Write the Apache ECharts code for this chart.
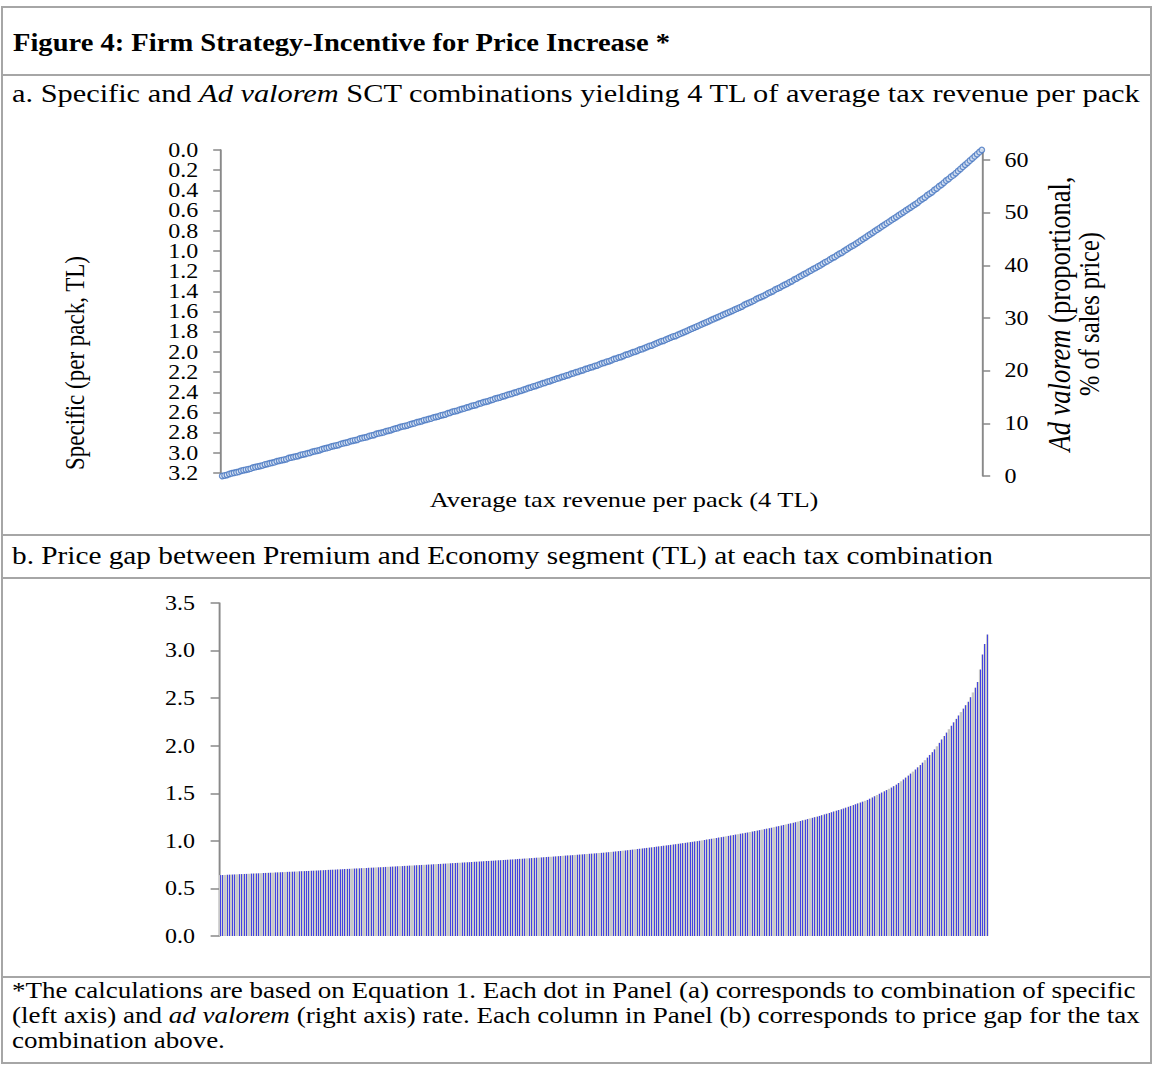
<!DOCTYPE html>
<html>
<head>
<meta charset="utf-8">
<script src="https://cdn.jsdelivr.net/npm/echarts@6/dist/echarts.min.js"></script>
<style>
html,body{margin:0;padding:0;background:#fff;overflow:hidden;}
#wrap{width:962px;height:1066px;transform:scaleX(1.2);transform-origin:0 0;}
#c{width:962px;height:1066px;}
</style>
</head>
<body>
<div id="wrap"><div id="c"></div></div>
<script>
// ---- Data ----
// Panel (a): ad valorem rate (% of sales price) for each specific/ad valorem combination,
// specific rate runs from 3.2 TL (left) down to 0.0 TL (right)
const adValorem = [
0.0,0.1,0.2,0.4,0.5,0.6,0.7,0.8,1.0,1.1,
1.2,1.3,1.4,1.6,1.7,1.8,1.9,2.0,2.2,2.3,
2.4,2.5,2.6,2.8,2.9,3.0,3.1,3.2,3.4,3.5,
3.6,3.7,3.8,4.0,4.1,4.2,4.3,4.4,4.6,4.7,
4.8,4.9,5.1,5.2,5.3,5.4,5.6,5.7,5.8,5.9,
6.1,6.2,6.3,6.4,6.6,6.7,6.8,6.9,7.1,7.2,
7.3,7.4,7.6,7.7,7.8,8.0,8.1,8.2,8.3,8.5,
8.6,8.7,8.9,9.0,9.1,9.3,9.4,9.5,9.6,9.8,
9.9,10.0,10.2,10.3,10.4,10.6,10.7,10.8,10.9,11.1,
11.2,11.3,11.5,11.6,11.7,11.9,12.0,12.2,12.3,12.4,
12.6,12.7,12.8,13.0,13.1,13.3,13.4,13.5,13.7,13.8,
14.0,14.1,14.2,14.4,14.5,14.7,14.8,14.9,15.1,15.2,
15.4,15.5,15.6,15.8,15.9,16.1,16.2,16.4,16.5,16.7,
16.8,17.0,17.1,17.3,17.4,17.6,17.7,17.9,18.0,18.2,
18.3,18.5,18.6,18.8,18.9,19.1,19.2,19.4,19.5,19.7,
19.8,20.0,20.1,20.3,20.4,20.6,20.7,20.9,21.0,21.2,
21.4,21.5,21.7,21.8,22.0,22.2,22.3,22.5,22.6,22.8,
23.0,23.1,23.3,23.5,23.6,23.8,24.0,24.1,24.3,24.5,
24.7,24.8,25.0,25.2,25.4,25.6,25.7,25.9,26.1,26.3,
26.5,26.6,26.8,27.0,27.2,27.4,27.6,27.8,28.0,28.2,
28.4,28.6,28.8,29.0,29.2,29.4,29.6,29.8,30.0,30.2,
30.4,30.6,30.8,31.0,31.2,31.4,31.6,31.8,32.0,32.2,
32.5,32.7,32.9,33.1,33.3,33.6,33.8,34.0,34.2,34.4,
34.7,34.9,35.1,35.4,35.6,35.8,36.1,36.3,36.5,36.8,
37.0,37.3,37.5,37.8,38.0,38.3,38.5,38.8,39.0,39.3,
39.5,39.8,40.0,40.3,40.6,40.8,41.1,41.4,41.6,41.9,
42.2,42.4,42.7,43.0,43.3,43.6,43.8,44.1,44.4,44.7,
45.0,45.3,45.6,45.9,46.2,46.5,46.8,47.1,47.4,47.7,
48.0,48.3,48.6,48.9,49.2,49.5,49.8,50.1,50.4,50.7,
51.0,51.3,51.6,51.9,52.3,52.6,52.9,53.3,53.6,53.9,
54.3,54.6,55.0,55.3,55.7,56.1,56.4,56.8,57.1,57.5,
57.9,58.3,58.7,59.1,59.5,59.9,60.3,60.7,61.1,61.5,
61.9
];
// Panel (b): price gap (TL) between Premium and Economy at each combination
const priceGap = [
0.640,0.641,0.642,0.644,0.645,0.646,0.647,0.648,0.650,0.651,
0.652,0.653,0.654,0.656,0.657,0.658,0.659,0.660,0.662,0.663,
0.664,0.665,0.666,0.668,0.669,0.670,0.671,0.672,0.674,0.675,
0.676,0.677,0.678,0.680,0.681,0.682,0.683,0.684,0.686,0.687,
0.688,0.689,0.691,0.692,0.693,0.695,0.696,0.697,0.698,0.700,
0.701,0.702,0.704,0.705,0.706,0.708,0.709,0.710,0.711,0.713,
0.714,0.715,0.717,0.718,0.719,0.721,0.722,0.723,0.724,0.726,
0.727,0.728,0.730,0.731,0.733,0.734,0.735,0.737,0.738,0.740,
0.741,0.742,0.744,0.745,0.747,0.748,0.749,0.751,0.752,0.754,
0.755,0.757,0.758,0.760,0.761,0.763,0.764,0.766,0.767,0.769,
0.770,0.772,0.773,0.775,0.776,0.778,0.780,0.781,0.783,0.784,
0.786,0.788,0.789,0.791,0.792,0.794,0.796,0.797,0.799,0.800,
0.802,0.804,0.805,0.807,0.809,0.811,0.812,0.814,0.816,0.817,
0.819,0.821,0.823,0.824,0.826,0.828,0.830,0.832,0.833,0.835,
0.837,0.839,0.841,0.843,0.845,0.847,0.848,0.850,0.852,0.854,
0.856,0.858,0.860,0.862,0.864,0.866,0.868,0.870,0.872,0.874,
0.876,0.879,0.881,0.884,0.886,0.889,0.892,0.894,0.897,0.899,
0.902,0.905,0.908,0.911,0.914,0.917,0.920,0.923,0.926,0.929,
0.932,0.935,0.939,0.942,0.945,0.949,0.952,0.955,0.958,0.962,
0.965,0.969,0.972,0.976,0.979,0.983,0.987,0.990,0.994,0.997,
1.001,1.005,1.009,1.014,1.018,1.022,1.026,1.030,1.035,1.039,
1.043,1.048,1.052,1.057,1.061,1.066,1.070,1.075,1.079,1.084,
1.088,1.093,1.098,1.103,1.108,1.113,1.118,1.123,1.128,1.133,
1.138,1.144,1.150,1.155,1.161,1.167,1.173,1.179,1.184,1.190,
1.196,1.203,1.209,1.216,1.222,1.229,1.236,1.242,1.249,1.255,
1.262,1.270,1.278,1.285,1.293,1.301,1.309,1.317,1.324,1.332,
1.340,1.349,1.358,1.367,1.376,1.385,1.394,1.403,1.412,1.421,
1.430,1.443,1.456,1.469,1.482,1.495,1.508,1.521,1.534,1.547,
1.560,1.575,1.591,1.608,1.626,1.645,1.665,1.686,1.707,1.728,
1.750,1.773,1.797,1.822,1.848,1.875,1.903,1.932,1.962,1.994,
2.030,2.066,2.102,2.138,2.174,2.210,2.246,2.282,2.318,2.354,
2.390,2.426,2.462,2.510,2.560,2.610,2.670,2.800,2.960,3.070,
3.170
];
// Axis ticks
const specificTicks = [0.0,0.2,0.4,0.6,0.8,1.0,1.2,1.4,1.6,1.8,2.0,2.2,2.4,2.6,2.8,3.0,3.2];
const adValoremTicks = [0,10,20,30,40,50,60];
const gapTicks = [0.0,0.5,1.0,1.5,2.0,2.5,3.0,3.5];
// Texts
const titleText = 'Figure 4: Firm Strategy-Incentive for Price Increase *';
const panelAText = 'a. Specific and {i|Ad valorem} SCT combinations yielding 4 TL of average tax revenue per pack';
const panelBText = 'b. Price gap between Premium and Economy segment (TL) at each tax combination';
const xTitleA = 'Average tax revenue per pack (4 TL)';
const yTitleLeft = 'Specific (per pack, TL)';
const yTitleRight1 = '{i|Ad valorem} (proportional,';
const yTitleRight2 = '% of sales price)';
const footLines = [
  '*The calculations are based on Equation 1. Each dot in Panel (a) corresponds to combination of specific',
  '(left axis) and {i|ad valorem} (right axis) rate. Each column in Panel (b) corresponds to price gap for the tax',
  'combination above.'
];

// ---- Layout helpers (page is horizontally stretched by S via CSS) ----
const S = 1.2;
const X = v => v / S;
const FF = 'Liberation Serif';
const categories = adValorem.map((_, i) => String(i + 1));

function richItalic(size) {
  return { i: { fontStyle: 'italic', fontSize: size, fontFamily: FF, fill: '#000' } };
}

const BORDER = '#a6a6a6';
const hLines = [7, 75, 535, 578, 977, 1063];
const graphic = [];
hLines.forEach(y => graphic.push({
  type: 'line', silent: true,
  shape: { x1: X(2), y1: y, x2: X(1152), y2: y },
  style: { stroke: BORDER, lineWidth: 2 }
}));
[2, 1151].forEach(x => graphic.push({
  type: 'line', silent: true,
  shape: { x1: X(x), y1: 6, x2: X(x), y2: 1064 },
  style: { stroke: BORDER, lineWidth: 2 / S }
}));
function txt(text, x, y, size, opts) {
  opts = opts || {};
  return {
    type: 'text', silent: true, x: x, y: y, rotation: opts.rotation || 0,
    scaleX: opts.sx || 1,
    style: {
      text: text, fontSize: size, fontFamily: FF, fontWeight: opts.bold ? 'bold' : 'normal',
      fill: '#000', textAlign: opts.align || 'left', textVerticalAlign: 'middle',
      rich: richItalic(size)
    }
  };
}
graphic.push(txt(titleText, X(13), 42, 26, { bold: true, sx: 0.915 }));
graphic.push(txt(panelAText, X(12), 93, 25.3));
graphic.push(txt(panelBText, X(12), 556, 24.4));
graphic.push(txt(footLines[0], X(12), 990, 22.5));
graphic.push(txt(footLines[1], X(12), 1015, 22.5));
graphic.push(txt(footLines[2], X(12), 1040, 22.5));
graphic.push(txt(xTitleA, X(624), 499, 22, { align: 'center' }));
graphic.push(txt(yTitleLeft, X(74), 363, 23, { align: 'center', rotation: Math.PI / 2 }));
graphic.push(txt(yTitleRight1, X(1059), 314, 26.5, { align: 'center', rotation: Math.PI / 2 }));
graphic.push(txt(yTitleRight2, X(1089), 314, 24.5, { align: 'center', rotation: Math.PI / 2 }));

const AX = '#898989';
const labelStyle = { color: '#000', fontSize: 20, fontFamily: FF, showMinLabel: true, showMaxLabel: true, hideOverlap: false };

// Column fill: thin blue column with Excel-like grey shadow on both sides
const GREY = '#c8c8c8', BLUE = '#4444e0';
const barFill = new echarts.graphic.LinearGradient(0, 0, 1, 0, [
  { offset: 0, color: GREY }, { offset: 0.33, color: GREY },
  { offset: 0.33, color: BLUE }, { offset: 0.69, color: BLUE },
  { offset: 0.69, color: GREY }, { offset: 1, color: GREY }
]);

const chart = echarts.init(document.getElementById('c'), null, { renderer: 'svg' });
chart.setOption({
  animation: false,
  backgroundColor: '#fff',
  graphic: graphic,
  grid: [
    { left: X(221), width: X(983) - X(221), top: 150, height: 323 },
    { left: X(221), width: X(983) - X(221), top: 150, height: 326 },
    { left: X(219), width: X(988.5) - X(219), top: 603, height: 333 }
  ],
  xAxis: [
    { gridIndex: 0, type: 'category', data: categories, show: false },
    { gridIndex: 1, type: 'category', data: categories, show: false, boundaryGap: true },
    { gridIndex: 2, type: 'category', data: categories, show: false, boundaryGap: true }
  ],
  yAxis: [
    {
      gridIndex: 0, type: 'value', position: 'left', inverse: true,
      min: specificTicks[0], max: specificTicks[specificTicks.length - 1], interval: 0.2,
      axisLine: { show: true, lineStyle: { color: AX, width: 1.6 } },
      axisTick: { show: true, length: 6.5, lineStyle: { color: AX, width: 1.5 } },
      axisLabel: Object.assign({ margin: 19, formatter: v => Number(v).toFixed(1) }, labelStyle),
      splitLine: { show: false }
    },
    {
      gridIndex: 1, type: 'value', position: 'right',
      min: 0, max: 61.9,
      axisLine: { show: true, lineStyle: { color: AX, width: 1.6 } },
      axisTick: { show: true, length: 6, lineStyle: { color: AX, width: 1.5 }, customValues: adValoremTicks },
      axisLabel: Object.assign({ margin: 18, customValues: adValoremTicks }, labelStyle),
      splitLine: { show: false }
    },
    {
      gridIndex: 2, type: 'value', position: 'left',
      min: gapTicks[0], max: gapTicks[gapTicks.length - 1], interval: 0.5,
      axisLine: { show: true, lineStyle: { color: AX, width: 1.6 } },
      axisTick: { show: true, length: 7, lineStyle: { color: AX, width: 1.5 } },
      axisLabel: Object.assign({ margin: 20, formatter: v => Number(v).toFixed(1) }, labelStyle),
      splitLine: { show: false }
    }
  ],
  series: [
    {
      type: 'scatter', xAxisIndex: 1, yAxisIndex: 1, data: adValorem,
      symbol: 'circle', symbolSize: [4.6, 5.6], clip: false,
      itemStyle: { color: '#dde7f5', borderColor: '#4676c0', borderWidth: 1.2 }
    },
    {
      type: 'bar', xAxisIndex: 2, yAxisIndex: 2, data: priceGap,
      barWidth: '100%', barCategoryGap: 0,
      itemStyle: { color: barFill }
    }
  ]
});
</script>
</body>
</html>
